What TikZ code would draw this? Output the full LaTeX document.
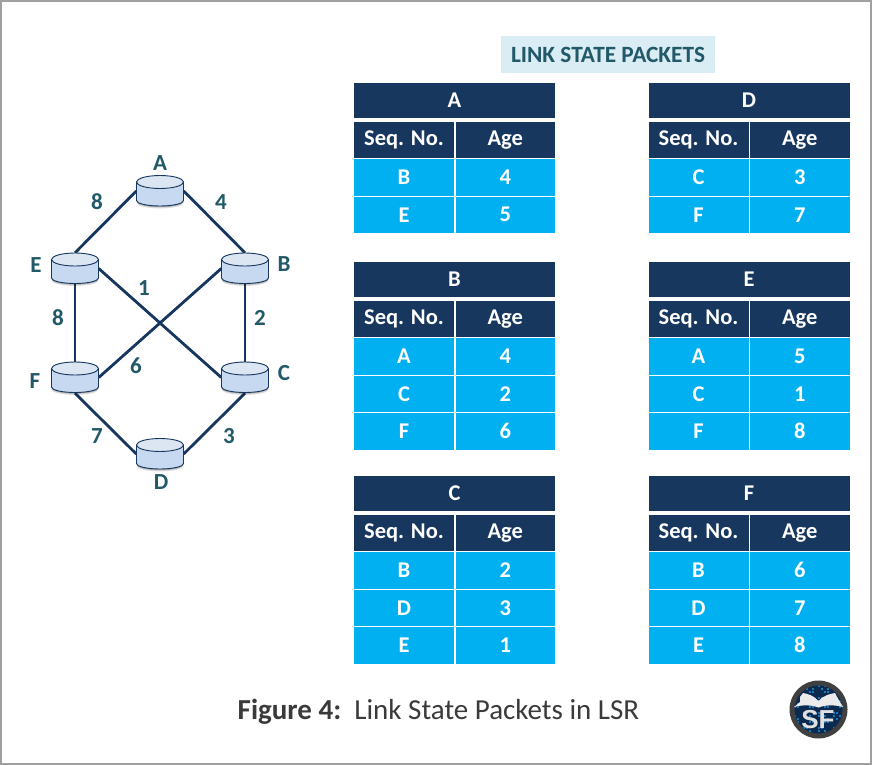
\documentclass[tikz,border=0pt]{standalone}
\usepackage{fontspec}
\setmainfont{Carlito}
\setsansfont{Liberation Sans}
\usetikzlibrary{calc}
\definecolor{navy}{HTML}{17375E}
\definecolor{cyanrow}{HTML}{00B0F0}
\definecolor{teal}{HTML}{215968}
\definecolor{routerbody}{HTML}{C6D9F1}
\definecolor{routertop}{HTML}{DCE6F2}
\definecolor{framegray}{HTML}{A0A0A0}
\definecolor{titlebg}{HTML}{DAECF4}
\definecolor{captiongray}{HTML}{3A3A3A}
\definecolor{logoblue}{HTML}{0A2A50}
\definecolor{logodot}{HTML}{1878B8}
\tikzset{
  x=1pt,y=-1pt,
  routerbox/.style={minimum width=47pt,minimum height=31pt,inner sep=0pt},
  routerline/.style={draw=navy,line width=0.9pt},
  link/.style={draw=navy,line width=2.8pt},
  routerlabel/.style={text=teal,font=\fontsize{23}{23}\selectfont\bfseries,inner sep=0pt},
  weight/.style={text=teal,font=\fontsize{23}{23}\selectfont\bfseries,inner sep=0pt},
  headcell/.style={fill=navy,text=white,font=\fontsize{22.5}{22.5}\selectfont\bfseries,inner sep=0pt,anchor=center},
  bodycell/.style={fill=cyanrow,text=white,font=\fontsize{22.5}{22.5}\selectfont\bfseries,inner sep=0pt,anchor=center},
}
\newcommand{\routershape}[2]{% x y(center)
  \foreach \o/\s in {0.14/2.4,0.2/1.2}{
    \fill[black,opacity=\o] (#1-23.5,#2-9+\s) -- (#1-23.5,#2+9.5+\s)
      arc[start angle=180,end angle=360,x radius=23.5pt,y radius=5.5pt]
      -- (#1+23.5,#2-9+\s) -- cycle;
  }
  \path[routerline,fill=routerbody] (#1-23.5,#2-9) -- (#1-23.5,#2+9.5)
      arc[start angle=180,end angle=360,x radius=23.5pt,y radius=5.5pt]
      -- (#1+23.5,#2-9) -- cycle;
  \path[routerline,fill=routertop] (#1,#2-9) ellipse[x radius=23.5pt,y radius=6.5pt];
}
\newcommand{\pktcell}[7]{% name style x0 y0 x1 y1 text
  \path[#2] (#3,#4) rectangle (#5,#6);
  \node[#2,fill=none] (#1) at ({(#3+#5)/2},{(#4+#6)/2}) {#7};
}
\newcommand{\pkttable}[5]{%
  \pktcell{#1title}{headcell}{#2}{#3}{#2+201}{#3+35}{#4}
  \pktcell{#1seq}{headcell}{#2}{#3+39}{#2+100}{#3+75}{Seq. No.}
  \pktcell{#1age}{headcell}{#2+101.5}{#3+39}{#2+201}{#3+75}{Age}
  \foreach \n/\l/\v in {#5}{
    \pgfmathsetmacro{\ya}{#3+76+37.5*(\n-1)}
    \pgfmathsetmacro{\yb}{\ya+36.5}
    \pktcell{#1l\n}{bodycell}{#2}{\ya}{#2+100}{\yb}{\l}
    \pktcell{#1v\n}{bodycell}{#2+101.5}{\ya}{#2+201}{\yb}{\v}
  }
}
\begin{document}
\begin{tikzpicture}
\useasboundingbox (0,0) rectangle (872,765);
\path[fill=white,draw=framegray,line width=2pt] (1,1) rectangle (871,764);

% network: links first, routers on top
\node[routerbox] (A) at (160,191) {};
\node[routerbox] (E) at (75,268.5) {};
\node[routerbox] (B) at (245,268.5) {};
\node[routerbox] (F) at (75,377.5) {};
\node[routerbox] (C) at (245,377.5) {};
\node[routerbox] (D) at (160,454) {};

\draw[link] (A.west) -- (E.north);
\draw[link] (A.east) -- (B.north);
\draw[link] (E.south) -- (F.north);
\draw[link] (B.south) -- (C.north);
\draw[link] (E.east) -- (C.west);
\draw[link] (B.west) -- (F.east);
\draw[link] (F.south) -- (D.west);
\draw[link] (C.south) -- (D.east);

\routershape{160}{191}
\routershape{75}{268.5}
\routershape{245}{268.5}
\routershape{75}{377.5}
\routershape{245}{377.5}
\routershape{160}{454}

\node[routerlabel] (la) at (160,163) {A};
\node[routerlabel] (le) at (36,265) {E};
\node[routerlabel] (lb) at (284,264) {B};
\node[routerlabel] (lf) at (35,381) {F};
\node[routerlabel] (lc) at (284,373) {C};
\node[routerlabel] (ld) at (161,482) {D};

\node[weight] (w1) at (97,202) {8};
\node[weight] (w2) at (221,202) {4};
\node[weight] (w3) at (144,288) {1};
\node[weight] (w4) at (58,318) {8};
\node[weight] (w5) at (260,318) {2};
\node[weight] (w6) at (136,366) {6};
\node[weight] (w7) at (97,436) {7};
\node[weight] (w8) at (229,436) {3};

% title
\node[fill=titlebg,text=teal,font=\fontsize{23.3}{23.3}\selectfont\bfseries,minimum width=214pt,minimum height=37pt,inner sep=0pt] (ttl) at (608,54.5) {LINK STATE PACKETS};

% tables
\pkttable{ta}{354}{83}{A}{1/B/4,2/E/5}
\pkttable{tb}{354}{262}{B}{1/A/4,2/C/2,3/F/6}
\pkttable{tc}{354}{476}{C}{1/B/2,2/D/3,3/E/1}
\pkttable{td}{648.5}{83}{D}{1/C/3,2/F/7}
\pkttable{te}{648.5}{262}{E}{1/A/5,2/C/1,3/F/8}
\pkttable{tf}{648.5}{476}{F}{1/B/6,2/D/7,3/E/8}

% caption
\node[text=captiongray,font=\fontsize{29}{29}\selectfont,inner sep=0pt] (cap) at (438.5,711.5) {\textbf{Figure 4:}\ \ Link State Packets in LSR};

% logo
\fill[black!75] (818.5,709.5) circle (29);
\fill[logoblue] (818.5,709.5) circle (24);
\begin{scope}
\clip (818.5,709.5) circle (24);
\foreach \i in {0,...,16}{\foreach \j in {0,...,16}{
  \pgfmathsetmacro{\c}{mod(\i*7+\j*13+\i*\j,5)}
  \ifdim\c pt<2pt
    \fill[logodot] ({794+\i*3},{685+\j*3}) rectangle ++(1.5,1.5);
  \fi
}}
\end{scope}
\fill[black!8] (818.5,701) .. controls (813,695) and (808,694) .. (803,693) -- (800,697) -- (800,700) -- (800,701) -- (800,702) -- (794,707) .. controls (803,704.5) and (812,705) .. (818.5,707.5) .. controls (825,705) and (834,704.5) .. (843,707) -- (837,697) -- (835,693) .. controls (830,694) and (824,695) .. (818.5,701) -- cycle;
\node[text=black!12,font=\fontsize{26}{26}\selectfont\sffamily\bfseries,inner sep=0pt] (sf) at (818,720) {SF};
\end{tikzpicture}
\end{document}
